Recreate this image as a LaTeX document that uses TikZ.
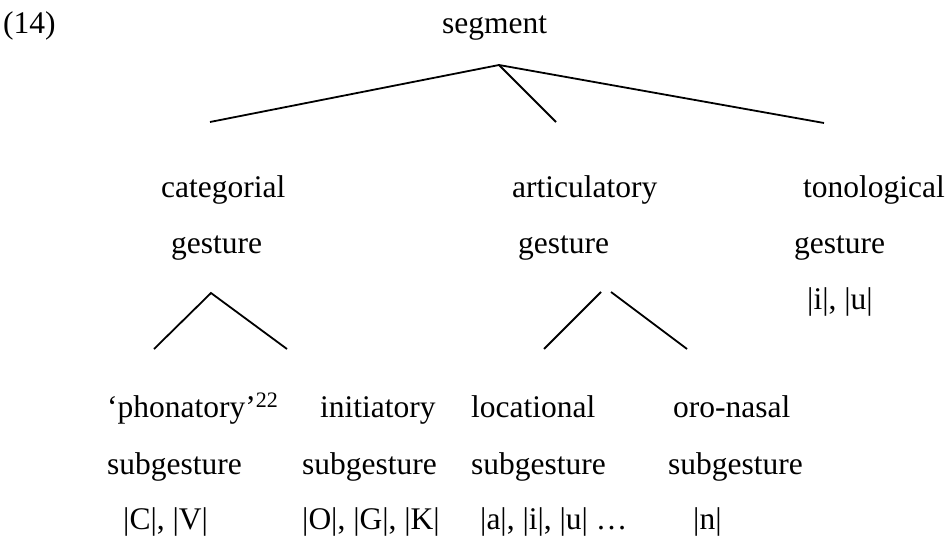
\documentclass[tikz,border=0pt]{standalone}
\usepackage{fontspec}
\setmainfont{Liberation Serif}
\begin{document}
\begin{tikzpicture}[x=1pt,y=-1pt,
  lbl/.style={anchor=base west,inner sep=0pt,font=\fontsize{31.5}{38}\selectfont},
  branch/.style={line width=1.8pt}]
\useasboundingbox (0,0) rectangle (949,538);
% top
\node[lbl] (num) at (3,33) {(14)};
\node[lbl] (seg) at (442,33) {segment};
% second level
\node[lbl] (cat1) at (161,197) {categorial};
\node[lbl] (cat2) at (171,253) {gesture};
\node[lbl] (art1) at (512,197) {articulatory};
\node[lbl] (art2) at (518,253) {gesture};
\node[lbl] (ton1) at (803,197) {tonological};
\node[lbl] (ton2) at (794,253) {gesture};
\node[lbl] (ton3) at (807,309) {|i|, |u|};
% bottom level
\node[lbl] (pho1) at (107,417) {‘phonatory’\textsuperscript{22}};
\node[lbl] (pho2) at (107,474) {subgesture};
\node[lbl] (pho3) at (123,529) {|C|, |V|};
\node[lbl] (ini1) at (320,417) {initiatory};
\node[lbl] (ini2) at (302,474) {subgesture};
\node[lbl] (ini3) at (302,529) {|O|, |G|, |K|};
\node[lbl] (loc1) at (471,417) {locational};
\node[lbl] (loc2) at (471,474) {subgesture};
\node[lbl] (loc3) at (480,529) {|a|, |i|, |u| …};
\node[lbl] (oro1) at (673,417) {oro-nasal};
\node[lbl] (oro2) at (668,474) {subgesture};
\node[lbl] (oro3) at (693,529) {|n|};
% branch points
\coordinate (segapex) at (499,65);
\coordinate (catend) at (210,122);
\coordinate (artend) at (556,122);
\coordinate (tonend) at (824,123);
\coordinate (catapex) at (211,293);
\coordinate (phoend) at (154,349);
\coordinate (iniend) at (287,349);
\coordinate (artapexL) at (601,292);
\coordinate (artapexR) at (611,292);
\coordinate (locend) at (544,349);
\coordinate (oroend) at (687,349);
\draw[branch] (catend) -- (segapex) -- (tonend);
\draw[branch] (segapex) -- (artend);
\draw[branch] (phoend) -- (catapex) -- (iniend);
\draw[branch] (artapexL) -- (locend);
\draw[branch] (artapexR) -- (oroend);
\end{tikzpicture}
\end{document}
